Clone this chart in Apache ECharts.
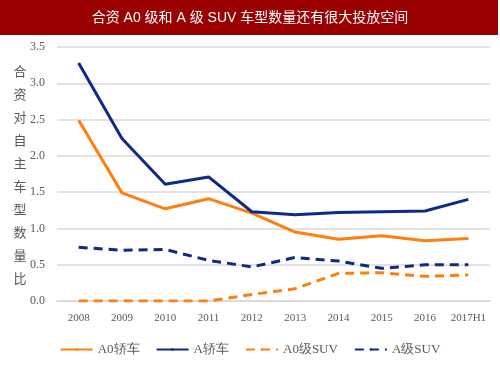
<!DOCTYPE html>
<html><head><meta charset="utf-8">
<script src="https://cdn.jsdelivr.net/npm/echarts@6/dist/echarts.min.js"></script>
<style>html,body{margin:0;padding:0;background:#fff}#c{width:500px;height:375px}</style>
</head><body><div id="c"></div>
<script>
var categories = ['2008','2009','2010','2011','2012','2013','2014','2015','2016','2017H1'];
var a0Sedan = [2.49,1.49,1.27,1.41,1.21,0.95,0.85,0.90,0.83,0.86];
var aSedan  = [3.28,2.24,1.61,1.71,1.23,1.19,1.22,1.23,1.24,1.40];
var a0Suv   = [0.00,0.00,0.00,0.00,0.09,0.17,0.38,0.39,0.34,0.36];
var aSuv    = [0.74,0.70,0.71,0.56,0.47,0.60,0.55,0.45,0.50,0.50];
var seriesNames = ['A0轿车','A轿车','A0级SUV','A级SUV'];
var yTicks = {min:0, max:3.5, interval:0.5};
var titleText = '合资 A0 级和 A 级 SUV 车型数量还有很大投放空间';
var yName = '合资对自主车型数量比';

var ORANGE = '#ff7f0e', BLUE = '#0d2a8a';
var serif = '"Liberation Serif","DejaVu Serif",serif';
var chart = echarts.init(document.getElementById('c'));
function mk(name, data, color, dashed){
  return {name:name, type:'line', data:data, symbol:'none', smooth:false,
    lineStyle:{color:color, width:3, type: dashed ? [9,6] : 'solid'},
    itemStyle:{color:color}};
}
chart.setOption({
  animation:false,
  graphic:[
    {type:'rect', shape:{x:0,y:0,width:498,height:35}, style:{fill:'#9a0000'}},
    {type:'text', x:250, y:18, style:{text:titleText, fill:'#fff', font:'14px "Liberation Sans","Noto Sans CJK SC", sans-serif', textAlign:'center', textVerticalAlign:'middle'}},
    {type:'text', x:20, y:175, style:{text:yName.split('').join('\n'), fill:'#595959', font:'13px "Noto Sans CJK SC", sans-serif', lineHeight:23, textAlign:'center', textVerticalAlign:'middle'}}
  ],
  grid:{left:57, right:10, top:47, bottom:74},
  legend:{bottom:14, left:'center', itemWidth:32, itemHeight:3, itemGap:16,
    textStyle:{color:'#595959', fontFamily:serif, fontSize:13},
    data:seriesNames},
  xAxis:{type:'category', data:categories, boundaryGap:true,
    axisLine:{show:true, lineStyle:{color:'#d9d9d9', width:1.5}}, axisTick:{show:false},
    axisLabel:{color:'#595959', fontFamily:serif, fontSize:11, margin:12, interval:0}},
  yAxis:{type:'value', min:yTicks.min, max:yTicks.max, interval:yTicks.interval,
    axisLine:{show:false}, axisTick:{show:false},
    splitLine:{lineStyle:{color:'#d9d9d9', width:1.5}},
    axisLabel:{color:'#595959', fontFamily:serif, fontSize:12, margin:12, formatter:function(v){return v.toFixed(1);}}},
  series:[mk(seriesNames[0],a0Sedan,ORANGE,false), mk(seriesNames[1],aSedan,BLUE,false),
          mk(seriesNames[2],a0Suv,ORANGE,true), mk(seriesNames[3],aSuv,BLUE,true)]
});
</script></body></html>
